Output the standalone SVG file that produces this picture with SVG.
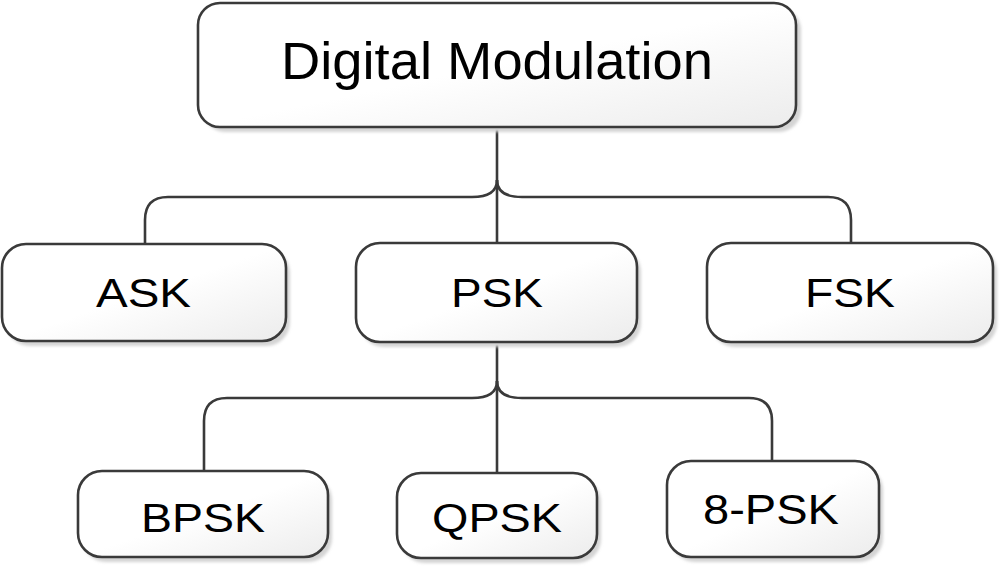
<svg xmlns="http://www.w3.org/2000/svg" width="1000" height="567" viewBox="0 0 1000 567">
  <style>
    .box { fill: url(#g); stroke: #3a3a3a; stroke-width: 2.6; }
    .sh { fill: #d4d4d4; filter: url(#blur); }
    .lbl { font-family: "Liberation Sans", Arial, sans-serif; fill: #000; text-anchor: middle; }
    .conn path { fill: none; stroke: #3a3a3a; stroke-width: 2.6; }
  </style>
  <defs>
    <linearGradient id="g" x1="0" y1="0" x2="1" y2="1">
      <stop offset="0" stop-color="#ffffff"/>
      <stop offset="0.5" stop-color="#ffffff"/>
      <stop offset="1" stop-color="#ececec"/>
    </linearGradient>
    <filter id="blur" x="-5%" y="-5%" width="110%" height="110%">
      <feGaussianBlur stdDeviation="1.5"/>
    </filter>
  </defs>
  <rect width="1000" height="567" fill="#ffffff"/>

  <g id="connectors" class="conn">
    <path d="M497,127 V243"/>
    <path d="M497,180 Q497,197 472,197 H168 Q145,197 145,220 V244"/>
    <path d="M497,180 Q497,197 522,197 H828 Q851,197 851,220 V243"/>
    <path d="M497,342 V473"/>
    <path d="M497,381 Q497,398 472,398 H227 Q204,398 204,421 V471"/>
    <path d="M497,381 Q497,398 522,398 H749 Q772,398 772,421 V461"/>
  </g>

  <g id="node-digital-modulation">
    <rect class="sh" x="203" y="8" width="598" height="124" rx="22"/>
    <rect class="box" x="198" y="3" width="598" height="124" rx="22"/>
    <text class="lbl" x="497" y="79" font-size="51" textLength="432" lengthAdjust="spacingAndGlyphs">Digital Modulation</text>
  </g>

  <g id="node-ask">
    <rect class="sh" x="6" y="249" width="284" height="97" rx="24"/>
    <rect class="box" x="2" y="244" width="284" height="97" rx="24"/>
    <text class="lbl" x="143.5" y="307" font-size="41" textLength="95" lengthAdjust="spacingAndGlyphs">ASK</text>
  </g>

  <g id="node-psk">
    <rect class="sh" x="360" y="248" width="281" height="99" rx="24"/>
    <rect class="box" x="356" y="243" width="281" height="99" rx="24"/>
    <text class="lbl" x="497" y="307" font-size="41" textLength="92" lengthAdjust="spacingAndGlyphs">PSK</text>
  </g>

  <g id="node-fsk">
    <rect class="sh" x="711" y="248" width="286" height="99" rx="24"/>
    <rect class="box" x="707" y="243" width="286" height="99" rx="24"/>
    <text class="lbl" x="850" y="307" font-size="41" textLength="90" lengthAdjust="spacingAndGlyphs">FSK</text>
  </g>

  <g id="node-bpsk">
    <rect class="sh" x="82" y="476" width="250" height="86" rx="24"/>
    <rect class="box" x="78" y="471" width="250" height="86" rx="24"/>
    <text class="lbl" x="203" y="532" font-size="41" textLength="124" lengthAdjust="spacingAndGlyphs">BPSK</text>
  </g>

  <g id="node-qpsk">
    <rect class="sh" x="401" y="478" width="200" height="85" rx="24"/>
    <rect class="box" x="397" y="473" width="200" height="85" rx="24"/>
    <text class="lbl" x="497" y="532" font-size="41" textLength="130" lengthAdjust="spacingAndGlyphs">QPSK</text>
  </g>

  <g id="node-8psk">
    <rect class="sh" x="671" y="466" width="212" height="96" rx="24"/>
    <rect class="box" x="667" y="461" width="212" height="96" rx="24"/>
    <text class="lbl" x="771" y="524" font-size="42" textLength="136" lengthAdjust="spacingAndGlyphs">8-PSK</text>
  </g>
</svg>
